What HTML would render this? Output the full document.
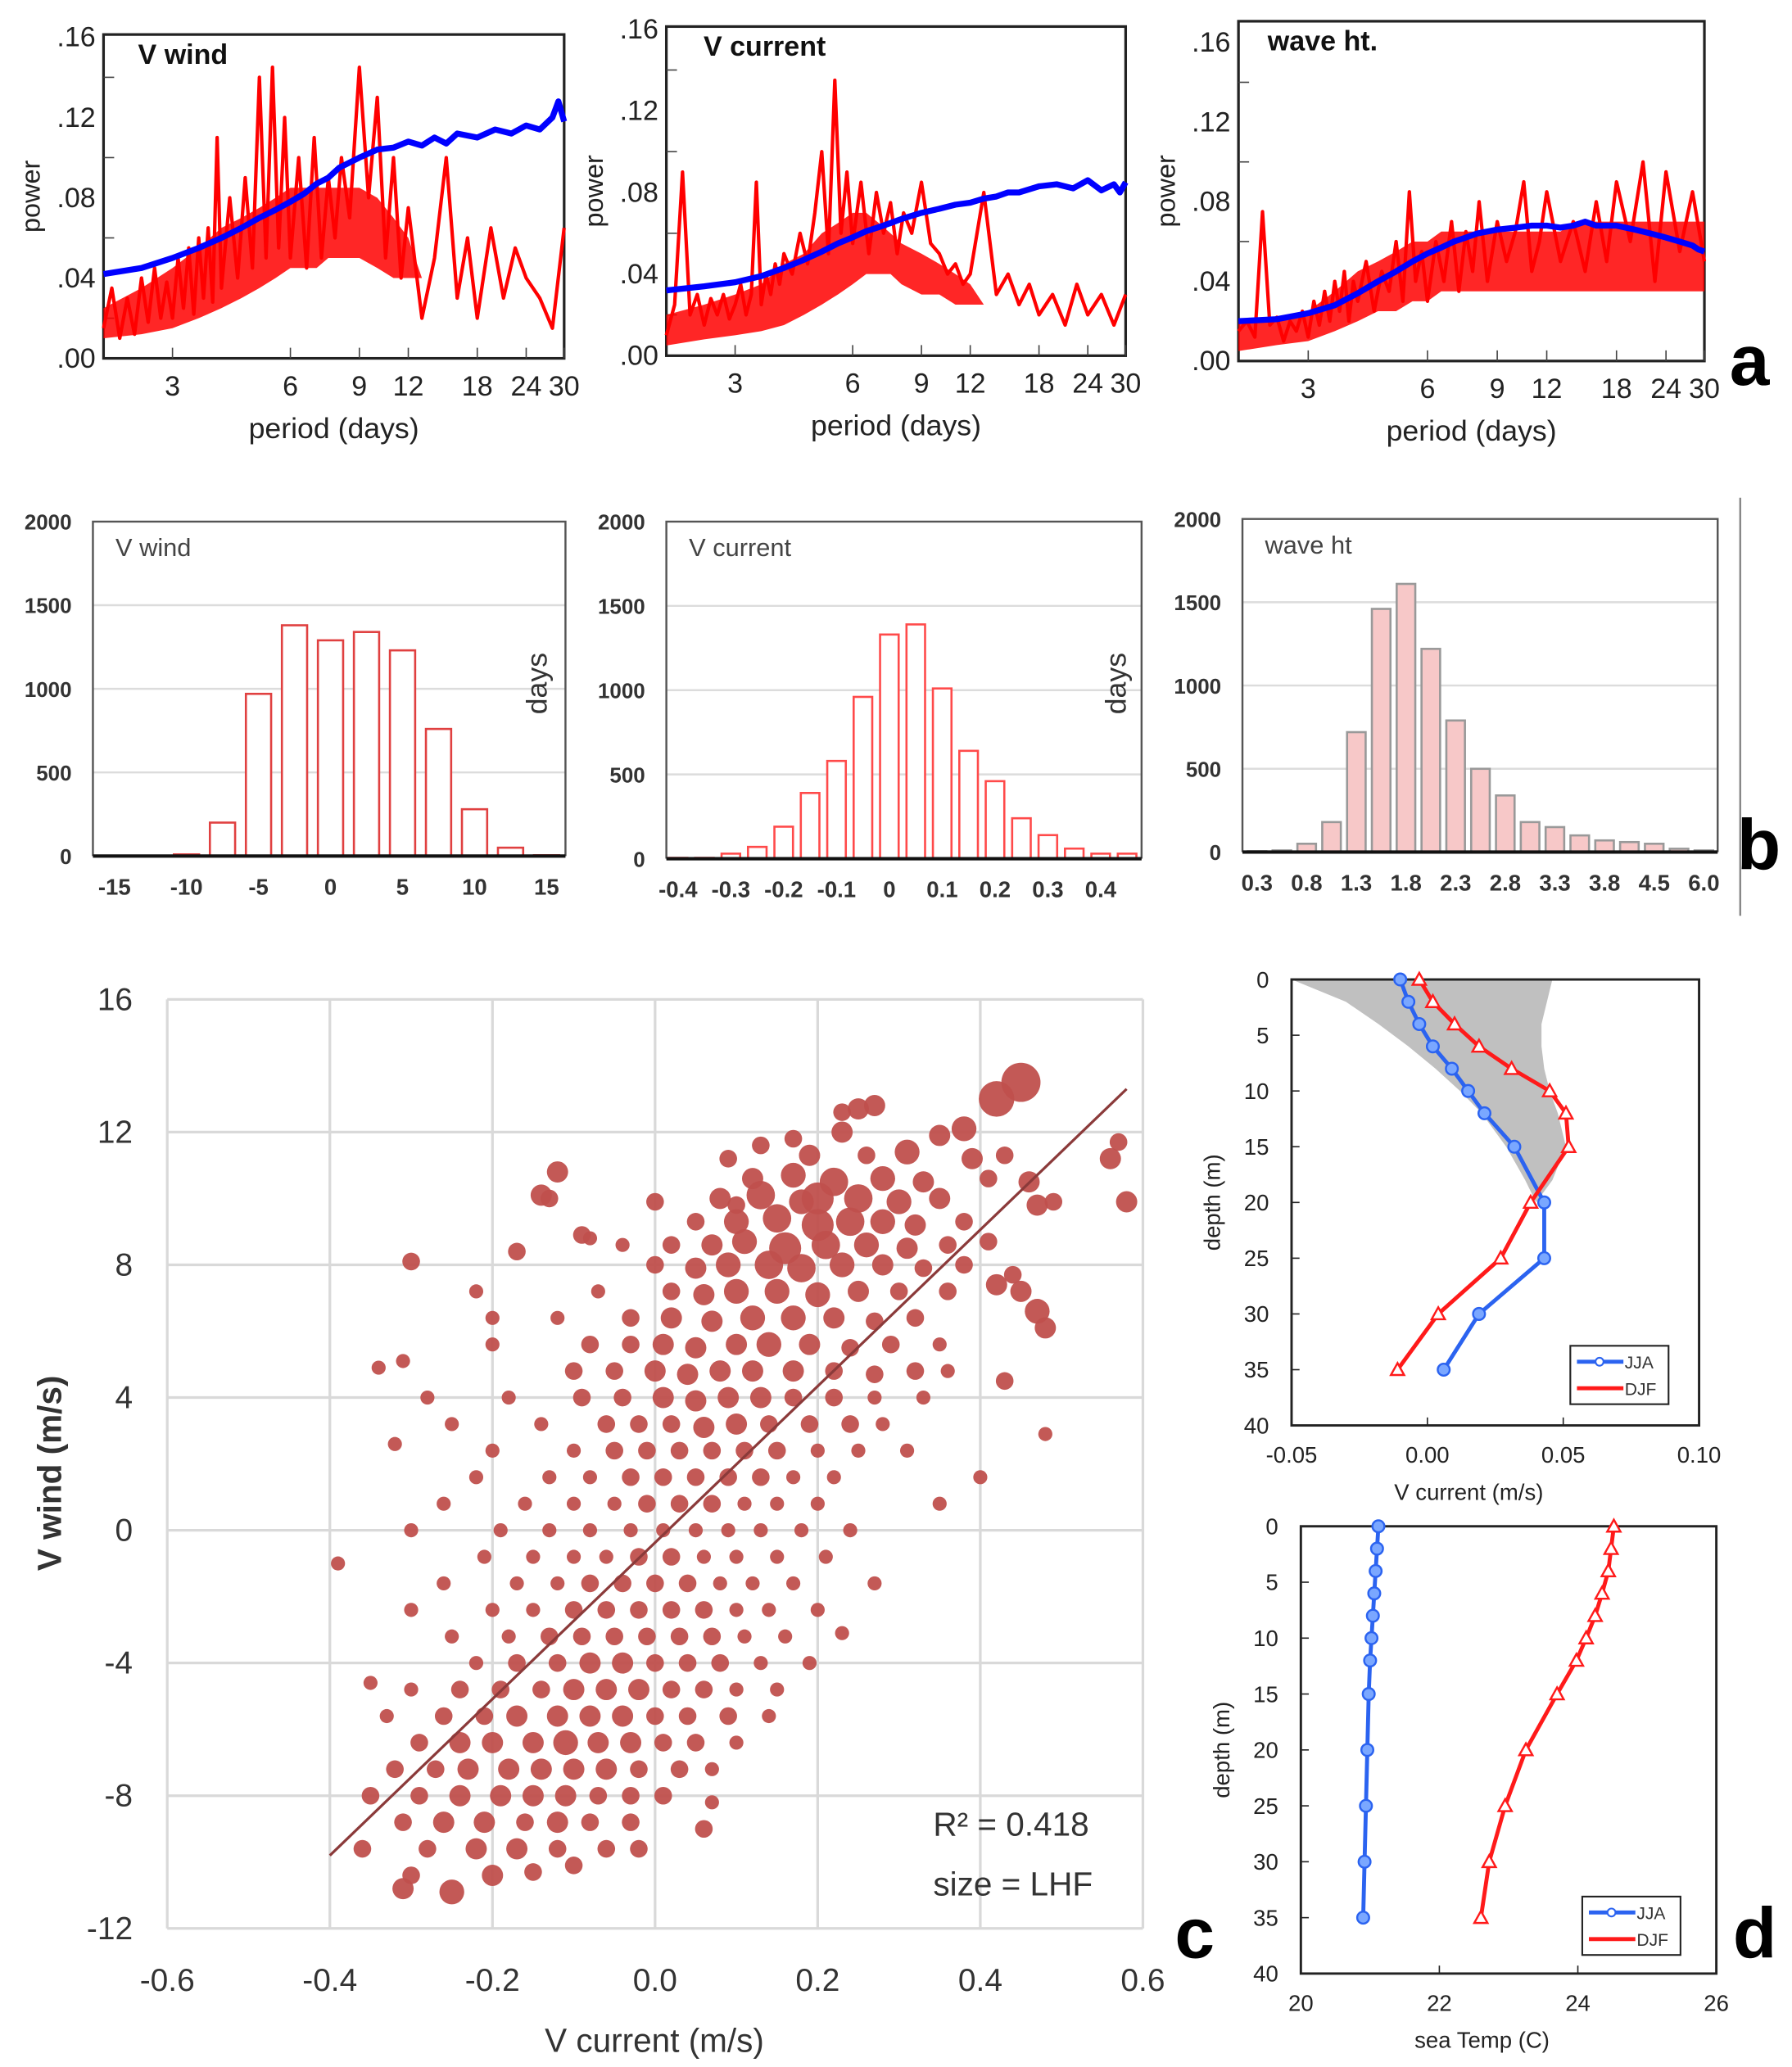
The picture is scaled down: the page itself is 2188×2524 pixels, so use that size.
<!DOCTYPE html>
<html><head><meta charset="utf-8"><style>
html,body{margin:0;padding:0;background:#fff;}
svg{display:block;}
text{font-family:"Liberation Sans Narrow","Liberation Sans",sans-serif;}
</style></head><body>
<svg id="fig" xmlns="http://www.w3.org/2000/svg" width="2188" height="2524" viewBox="0 0 1350 1557.4" preserveAspectRatio="none"></svg>
<script>
// ---------- DATA ----------
const specPeriods=[2,2.1,2.2,2.3,2.4,2.5,2.6,2.7,2.8,2.9,3,3.1,3.2,3.3,3.4,3.5,3.6,3.7,3.8,3.9,4,4.2,4.4,4.6,4.8,5,5.2,5.4,5.6,5.8,6,6.3,6.6,6.9,7.2,7.5,7.8,8.1,8.5,9,9.5,10,10.5,11,11.5,12,13,14,15,16,17,18,19.5,21,22.5,24,26,28,30];
const blueP=[2,2.5,3,3.5,4,4.5,5,5.5,6,6.5,7,7.5,8,9,10,11,12,13,14,15,16,18,20,22,24,26,28,29,30];
const windRed=[.015,.035,.01,.03,.012,.04,.018,.045,.02,.038,.02,.05,.025,.055,.022,.06,.03,.065,.028,.11,.035,.08,.04,.09,.045,.14,.05,.145,.055,.12,.05,.1,.045,.11,.05,.09,.06,.1,.07,.145,.08,.13,.05,.1,.04,.075,.02,.05,.1,.03,.06,.02,.065,.03,.055,.04,.03,.015,.065];
const windBlue=[.042,.045,.05,.055,.06,.065,.07,.074,.078,.082,.087,.09,.095,.1,.104,.105,.108,.106,.11,.107,.112,.11,.114,.112,.116,.114,.12,.128,.118];
const windLow=[.01,.012,.015,.02,.025,.03,.035,.04,.045,.045,.045,.05,.05,.05,.045,.04,.04,.04,.04,.04,.04,.04,.04,.04,.04,.04,.04,.04,.04];
const windHigh=[.025,.035,.045,.055,.065,.07,.075,.08,.085,.085,.085,.085,.085,.085,.08,.07,.06,.04,.04,.04,.04,.04,.04,.04,.04,.04,.04,.04,.04];
const curRed=[.01,.025,.09,.02,.03,.015,.028,.02,.03,.018,.025,.035,.02,.03,.085,.025,.04,.03,.045,.035,.05,.04,.06,.045,.07,.1,.05,.135,.06,.09,.055,.085,.05,.08,.06,.075,.05,.07,.06,.085,.055,.05,.04,.045,.035,.04,.08,.03,.04,.025,.035,.02,.03,.015,.035,.02,.03,.015,.03];
const curBlue=[.032,.034,.036,.039,.043,.047,.051,.055,.058,.061,.063,.065,.067,.07,.072,.074,.075,.077,.078,.08,.08,.083,.084,.082,.086,.081,.084,.08,.085];
const curLow=[.005,.008,.01,.012,.015,.02,.025,.03,.035,.04,.04,.04,.035,.03,.03,.025,.025,.025,.025,.025,.025,.025,.025,.025,.025,.025,.025,.025,.025];
const curHigh=[.02,.025,.03,.035,.045,.05,.06,.065,.07,.07,.065,.06,.055,.05,.045,.04,.035,.025,.025,.025,.025,.025,.025,.025,.025,.025,.025,.025,.025];
const waveRed=[.015,.02,.012,.075,.018,.022,.01,.02,.015,.025,.012,.03,.018,.035,.02,.04,.025,.045,.02,.04,.03,.05,.025,.045,.035,.06,.03,.085,.04,.055,.03,.06,.04,.07,.035,.065,.045,.08,.04,.07,.05,.065,.09,.045,.06,.085,.05,.07,.045,.08,.05,.09,.06,.1,.04,.095,.055,.085,.05];
const waveBlue=[.02,.021,.024,.028,.034,.04,.045,.05,.054,.057,.06,.062,.064,.066,.067,.068,.068,.067,.068,.07,.068,.068,.066,.064,.062,.06,.058,.056,.055];
const waveLow=[.005,.008,.01,.015,.02,.025,.025,.03,.03,.035,.035,.035,.035,.035,.035,.035,.035,.035,.035,.035,.035,.035,.035,.035,.035,.035,.035,.035,.035];
const waveHigh=[.02,.022,.025,.035,.045,.05,.055,.06,.06,.065,.065,.065,.065,.065,.065,.065,.065,.065,.07,.07,.07,.07,.07,.07,.07,.07,.07,.07,.07];
const powerTicks=[0,.04,.08,.12,.16];
const powerTickLabels=[".00",".04",".08",".12",".16"];
const periodTicks=[3,6,9,12,18,24,30];

const hWindBins=[-10,-7.5,-5,-2.5,0,2.5,5,7.5,10,12.5,15];
const hWindDays=[10,200,970,1380,1290,1340,1230,760,280,50,5];
const hWindTicks=[-15,-10,-5,0,5,10,15];
const hCurBins=[-0.4,-0.35,-0.3,-0.25,-0.2,-0.15,-0.1,-0.05,0,0.05,0.1,0.15,0.2,0.25,0.3,0.35,0.4,0.45];
const hCurDays=[5,5,30,70,190,390,580,960,1330,1390,1010,640,460,240,140,60,30,30];
const hCurTicks=[-0.4,-0.3,-0.2,-0.1,0,0.1,0.2,0.3,0.4];
const hWaveLabels=["0.3","","0.8","","1.3","","1.8","","2.3","","2.8","","3.3","","3.8","","4.5","","6.0"];
const hWaveDays=[5,10,50,180,720,1460,1610,1220,790,500,340,180,150,100,70,60,50,20,10];
const daysTicks=[0,500,1000,1500,2000];

const scatterPoints=[
[0.45,13.5,9],[0.42,13,8],
[0.27,12.8,4],[0.25,12.7,4],[0.23,12.6,3],
[0.23,12,4],[0.38,12.1,5],[0.35,11.9,4],[0.17,11.8,3],[0.13,11.6,3],
[0.19,11.3,4],[0.31,11.4,5],[0.39,11.2,4],[0.57,11.7,3],[0.56,11.2,4],[0.26,11.3,3],[0.09,11.2,3],[0.43,11.3,3],
[0.12,10.6,4],[0.17,10.7,5],[0.22,10.5,6],[0.28,10.6,5],[0.33,10.5,4],[0.41,10.6,3],[0.46,10.5,4],[-0.12,10.8,4],[0.58,9.9,4],
[-0.13,10,3],[-0.14,10.1,4],[0.08,10,4],[0.13,10.1,6],[0.18,9.9,5],[0.2,10,7],[0.25,10,6],[0.3,9.9,5],[0.35,10,4],[0.47,9.8,4],[0.49,9.9,3],[0.1,9.8,3],[0.0,9.9,3],
[0.05,9.3,3],[0.1,9.3,5],[0.15,9.4,6],[0.2,9.2,7],[0.24,9.3,6],[0.28,9.3,5],[0.32,9.2,4],[0.38,9.3,3],[-0.08,8.8,2],[-0.09,8.9,3],
[0.02,8.6,3],[0.07,8.6,4],[0.11,8.7,5],[0.16,8.5,7],[0.21,8.6,6],[0.26,8.6,5],[0.31,8.5,4],[0.36,8.6,3],[0.41,8.7,3],[-0.17,8.4,3],[-0.04,8.6,2],
[-0.3,8.1,3],[0.0,8,3],[0.05,7.9,4],[0.09,8,5],[0.14,8,6],[0.18,7.9,6],[0.23,8,5],[0.28,8,4],[0.33,7.9,3],[0.38,8,3],[0.44,7.7,3],
[-0.22,7.2,2],[-0.07,7.2,2],[0.02,7.2,3],[0.06,7.1,4],[0.1,7.2,5],[0.15,7.2,5],[0.2,7.1,5],[0.25,7.2,4],[0.3,7.2,3],[0.36,7.2,3],[0.42,7.4,4],[0.45,7.2,4],
[-0.2,6.4,2],[-0.12,6.4,2],[-0.03,6.4,3],[0.02,6.4,4],[0.07,6.3,4],[0.12,6.4,5],[0.17,6.4,5],[0.22,6.4,4],[0.27,6.3,3],[0.32,6.4,3],[0.47,6.6,5],[0.48,6.1,4],
[-0.2,5.6,2],[-0.08,5.6,3],[-0.03,5.6,3],[0.01,5.6,4],[0.05,5.5,4],[0.1,5.6,4],[0.14,5.6,5],[0.19,5.6,4],[0.24,5.5,3],[0.29,5.6,3],[0.35,5.6,2],
[-0.34,4.9,2],[-0.31,5.1,2],[-0.1,4.8,3],[-0.05,4.8,3],[0.0,4.8,4],[0.04,4.7,4],[0.08,4.8,4],[0.12,4.8,4],[0.17,4.8,4],[0.22,4.8,3],[0.27,4.7,3],[0.32,4.8,3],[0.36,4.8,2],[0.43,4.5,3],
[-0.28,4,2],[-0.18,4,2],[-0.09,4,3],[-0.04,4,3],[0.01,4,4],[0.05,3.9,4],[0.09,4,4],[0.13,4,4],[0.17,4,3],[0.22,4,3],[0.27,4,2],[0.33,4,2],
[-0.25,3.2,2],[-0.14,3.2,2],[-0.06,3.2,3],[-0.02,3.2,3],[0.02,3.2,3],[0.06,3.1,4],[0.1,3.2,4],[0.14,3.2,3],[0.19,3.2,3],[0.24,3.2,3],[0.28,3.2,2],[0.48,2.9,2],
[-0.32,2.6,2],[-0.2,2.4,2],[-0.1,2.4,2],[-0.05,2.4,3],[-0.01,2.4,3],[0.03,2.4,3],[0.07,2.4,3],[0.11,2.4,3],[0.15,2.4,3],[0.2,2.4,2],[0.25,2.4,2],[0.31,2.4,2],
[-0.22,1.6,2],[-0.13,1.6,2],[-0.08,1.6,2],[-0.03,1.6,3],[0.01,1.6,3],[0.05,1.6,3],[0.09,1.6,3],[0.13,1.6,3],[0.17,1.6,2],[0.22,1.6,2],[0.4,1.6,2],
[-0.26,0.8,2],[-0.16,0.8,2],[-0.1,0.8,2],[-0.05,0.8,2],[-0.01,0.8,3],[0.03,0.8,3],[0.07,0.8,3],[0.11,0.8,2],[0.15,0.8,2],[0.2,0.8,2],[0.35,0.8,2],
[-0.3,0,2],[-0.19,0,2],[-0.13,0,2],[-0.08,0,2],[-0.03,0,2],[0.01,0,2],[0.05,0,2],[0.09,0,2],[0.13,0,2],[0.18,0,2],[0.24,0,2],
[-0.39,-1,2],[-0.21,-0.8,2],[-0.15,-0.8,2],[-0.1,-0.8,2],[-0.06,-0.8,2],[-0.02,-0.8,3],[0.02,-0.8,3],[0.06,-0.8,2],[0.1,-0.8,2],[0.15,-0.8,2],[0.21,-0.8,2],
[-0.26,-1.6,2],[-0.17,-1.6,2],[-0.12,-1.6,2],[-0.08,-1.6,3],[-0.04,-1.6,3],[0.0,-1.6,3],[0.04,-1.6,3],[0.08,-1.6,2],[0.12,-1.6,2],[0.17,-1.6,2],[0.27,-1.6,2],
[-0.3,-2.4,2],[-0.2,-2.4,2],[-0.15,-2.4,2],[-0.1,-2.4,3],[-0.06,-2.4,3],[-0.02,-2.4,3],[0.02,-2.4,3],[0.06,-2.4,3],[0.1,-2.4,2],[0.14,-2.4,2],[0.2,-2.4,2],
[-0.25,-3.2,2],[-0.18,-3.2,2],[-0.13,-3.2,3],[-0.09,-3.2,3],[-0.05,-3.2,3],[-0.01,-3.2,3],[0.03,-3.2,3],[0.07,-3.2,3],[0.11,-3.2,2],[0.16,-3.2,2],[0.23,-3.1,2],
[-0.35,-4.6,2],[-0.22,-4,2],[-0.17,-4,3],[-0.12,-4,3],[-0.08,-4,4],[-0.04,-4,4],[0.0,-4,3],[0.04,-4,3],[0.08,-4,3],[0.13,-4,2],[0.19,-4,2],
[-0.3,-4.8,2],[-0.24,-4.8,3],[-0.19,-4.8,3],[-0.14,-4.8,3],[-0.1,-4.8,4],[-0.06,-4.8,4],[-0.02,-4.8,4],[0.02,-4.8,3],[0.06,-4.8,3],[0.1,-4.8,2],[0.15,-4.8,2],
[-0.33,-5.6,2],[-0.26,-5.6,3],[-0.21,-5.6,3],[-0.17,-5.6,4],[-0.12,-5.6,4],[-0.08,-5.6,4],[-0.04,-5.6,4],[0.0,-5.6,3],[0.04,-5.6,3],[0.09,-5.6,3],[0.14,-5.6,2],
[-0.29,-6.4,3],[-0.24,-6.4,4],[-0.2,-6.4,4],[-0.15,-6.4,4],[-0.11,-6.4,5],[-0.07,-6.4,4],[-0.03,-6.4,4],[0.01,-6.4,3],[0.05,-6.4,3],[0.1,-6.4,2],
[-0.32,-7.2,3],[-0.27,-7.2,3],[-0.23,-7.2,4],[-0.18,-7.2,4],[-0.14,-7.2,4],[-0.1,-7.2,4],[-0.06,-7.2,4],[-0.02,-7.2,3],[0.03,-7.2,3],[0.07,-7.2,2],
[-0.35,-8,3],[-0.29,-8,3],[-0.24,-8,4],[-0.19,-8,4],[-0.15,-8,4],[-0.11,-8,4],[-0.07,-8,3],[-0.03,-8,3],[0.01,-8,3],[0.07,-8.2,2],
[-0.31,-8.8,3],[-0.26,-8.8,4],[-0.21,-8.8,4],[-0.16,-8.8,3],[-0.12,-8.8,4],[-0.08,-8.8,3],[-0.03,-8.8,3],[0.06,-9,3],
[-0.36,-9.6,3],[-0.28,-9.6,3],[-0.22,-9.6,4],[-0.17,-9.6,4],[-0.12,-9.6,3],[-0.06,-9.6,3],[-0.02,-9.6,3],
[-0.31,-10.8,4],[-0.2,-10.4,4],[-0.15,-10.3,3],[-0.1,-10.1,3],[-0.25,-10.9,5],[-0.3,-10.4,3]
];
const fitX=[-0.4,0.58];
const fitY=[-9.8,13.3];
const cXTicks=[-0.6,-0.4,-0.2,0,0.2,0.4,0.6];
const cXLabels=["-0.6","-0.4","-0.2","0.0","0.2","0.4","0.6"];
const cYTicks=[-12,-8,-4,0,4,8,12,16];

const depths=[0,2,4,6,8,10,12,15,20,25,30,35];
const curJJA=[-0.01,-0.007,-0.003,0.002,0.009,0.015,0.021,0.032,0.043,0.043,0.019,0.006];
const curDJF=[-0.003,0.002,0.01,0.019,0.031,0.045,0.051,0.052,0.038,0.027,0.004,-0.011];
const shadeDepth=[0,2,4,6,8,10,12,15,18,20];
const shadeLeft=[-0.05,-0.03,-0.018,-0.007,0.003,0.012,0.02,0.029,0.036,0.04];
const shadeRight=[0.046,0.044,0.042,0.042,0.043,0.045,0.048,0.051,0.046,0.04];
const tempJJA=[21.12,21.1,21.08,21.06,21.04,21.02,21.0,20.98,20.96,20.94,20.92,20.9];
const tempDJF=[24.52,24.48,24.44,24.35,24.25,24.12,23.98,23.7,23.25,22.95,22.72,22.6];
const depthTicks=[0,5,10,15,20,25,30,35,40];
const dCurTicks=[-0.05,0,0.05,0.1];
const dCurLabels=["-0.05","0.00","0.05","0.10"];
const dTempTicks=[20,22,24,26];

// ---------- HELPERS ----------
const NS="http://www.w3.org/2000/svg";
const svg=document.getElementById('fig');
function mk(tag,attrs,parent){const e=document.createElementNS(NS,tag);for(const k in attrs)e.setAttribute(k,attrs[k]);(parent||svg).appendChild(e);return e;}
function txt(s,x,y,size,opts,parent){const o=Object.assign({x:x,y:y,'font-size':size,fill:'#222'},opts||{});const t=mk('text',o,parent);t.textContent=s;return t;}
function grp(){return mk('g',{});}

// ---------- PANEL A ----------
function spectrum(cfg){
  const g=grp();
  
  
  const L=Math.log(2),R=Math.log(30);
  const xa=p=>cfg.x0+(Math.log(p)-L)/(R-L)*(cfg.x1-cfg.x0);
  const ya=v=>cfg.yb-v/0.16*(cfg.yb-cfg.yt);
  const box=mk('rect',{x:cfg.x0,y:cfg.top,width:cfg.x1-cfg.x0,height:cfg.yb-cfg.top,fill:'none',stroke:'#222','stroke-width':2},g);
  
  
  for(let i=0;i<powerTicks.length;i++){
    const y=ya(powerTicks[i]);
    const t=txt(powerTickLabels[i],cfg.x0-6,y+7,21,{'text-anchor':'end'},g);
    
    
    if(i>0){const m=mk('line',{x1:cfg.x0,x2:cfg.x0+8,y1:ya(powerTicks[i]-0.02),y2:ya(powerTicks[i]-0.02),stroke:'#444','stroke-width':1},g);
    
    }
  }
  for(const p of periodTicks){
    const x=xa(p);
    const tk=mk('line',{x1:x,x2:x,y1:cfg.yb,y2:cfg.yb-8,stroke:'#444','stroke-width':1},g);
    
    
    const t=txt(String(p),x,cfg.yb+28,21,{'text-anchor':'middle'},g);
    
    
  }
  const envPts=blueP.map((p,i)=>xa(p)+','+ya(cfg.high[i])).concat(blueP.slice().reverse().map((p,j)=>xa(p)+','+ya(cfg.low[blueP.length-1-j])));
  const env=mk('polygon',{points:envPts.join(' '),fill:'#ff0000','fill-opacity':0.85},g);
  
  
  const red=mk('polyline',{points:specPeriods.map((p,i)=>xa(p)+','+ya(cfg.red[i])).join(' '),fill:'none',stroke:'#ff0000','stroke-width':2.6,'stroke-linejoin':'round'},g);
  
  
  const blue=mk('polyline',{points:blueP.map((p,i)=>xa(p)+','+ya(cfg.blue[i])).join(' '),fill:'none',stroke:'#0000ff','stroke-width':4.5,'stroke-linejoin':'round'},g);
  
  
  const ti=txt(cfg.title,cfg.x0+cfg.tdx,cfg.top+22,21,{'font-weight':'bold',fill:'#111'},g);
  
  
  const yl=txt('power',0,0,21,{transform:`translate(${cfg.x0-48},${(cfg.top+cfg.yb)/2}) rotate(-90)`,'text-anchor':'middle','font-family':'Liberation Sans, sans-serif','font-size':20},g);
  
  
  const xl=txt('period (days)',(cfg.x0+cfg.x1)/2,cfg.yb+60,22,{'text-anchor':'middle'},g);
  
  
}
spectrum({name:'spectrum-v-wind',x0:78,x1:425,top:26,yt:28,yb:270,red:windRed,blue:windBlue,low:windLow,high:windHigh,title:'V wind',tdx:26});
spectrum({name:'spectrum-v-current',x0:502,x1:848,top:20,yt:22,yb:268,red:curRed,blue:curBlue,low:curLow,high:curHigh,title:'V current',tdx:28});
spectrum({name:'spectrum-wave-ht',x0:933,x1:1284,top:16,yt:32,yb:272,red:waveRed,blue:waveBlue,low:waveLow,high:waveHigh,title:'wave ht.',tdx:22});

// ---------- PANEL B ----------
function hist(cfg){
  const g=grp();
  
  
  const yh=v=>cfg.yb-v/2000*(cfg.yb-cfg.yt);
  for(const d of daysTicks){
    if(d>0&&d<2000){const gl=mk('line',{x1:cfg.x0,x2:cfg.x1,y1:yh(d),y2:yh(d),stroke:'#dcdcdc','stroke-width':1.5},g);
    
    }
    const t=txt(String(d),cfg.x0-16,yh(d)+6,16,{'text-anchor':'end','font-weight':'bold',fill:'#333'},g);
    
    
  }
  const fr=mk('path',{d:`M${cfg.x0},${cfg.yb}V${cfg.yt}H${cfg.x1}V${cfg.yb}`,fill:'none',stroke:'#555','stroke-width':1.5},g);
  
  
  const n=cfg.days.length;
  for(let i=0;i<n;i++){
    const cx=cfg.xf(i);
    const y=yh(cfg.days[i]);
    const b=mk('rect',{x:cx-cfg.bw/2,y:y,width:cfg.bw,height:cfg.yb-y,fill:cfg.fill,stroke:cfg.stroke,'stroke-width':1.6},g);
    
    
  }
  const base=mk('line',{x1:cfg.x0,x2:cfg.x1,y1:cfg.yb,y2:cfg.yb,stroke:'#111','stroke-width':2.5},g);
  
  
  for(let i=0;i<cfg.ticks.length;i++){
    if(cfg.labels[i]==='')continue;
    const t=txt(cfg.labels[i],cfg.tx(i),cfg.yb+29,17,{'text-anchor':'middle','font-weight':'bold',fill:'#333'},g);
    
    
  }
  const ti=txt(cfg.title,cfg.x0+17,cfg.yt+26,19,{fill:'#444','font-family':'Liberation Sans, sans-serif'},g);
  
  
  if(cfg.daysX){const dl=txt('days',0,0,22,{transform:`translate(${cfg.daysX},515) rotate(-90)`,'text-anchor':'middle','font-family':'Liberation Sans, sans-serif',fill:'#333'},g);
  
  }
}
{
  const xw=v=>249+v*10.85;
  hist({name:'histogram-v-wind',x0:70,x1:426,yt:393,yb:645,days:hWindDays,xf:i=>xw(hWindBins[i]),bw:19,fill:'#fff',stroke:'#e04040',
    ticks:hWindTicks,labels:hWindTicks.map(String),tx:i=>xw(hWindTicks[i]),title:'V wind',daysX:412});
  const xc=v=>670+v*398;
  hist({name:'histogram-v-current',x0:502,x1:860,yt:393,yb:647,days:hCurDays,xf:i=>xc(hCurBins[i]),bw:14,fill:'#fff',stroke:'#ff4a4a',
    ticks:hCurTicks,labels:hCurTicks.map(v=>v===0?'0':String(v)),tx:i=>xc(hCurTicks[i]),title:'V current',daysX:848});
  const xv=i=>947+i*18.7;
  hist({name:'histogram-wave-ht',x0:936,x1:1294,yt:391,yb:642,days:hWaveDays,xf:xv,bw:14,fill:'#f7c8c8',stroke:'#999',
    ticks:hWaveLabels,labels:hWaveLabels,tx:xv,title:'wave ht'});
}
const sep=mk('line',{x1:1311,x2:1311,y1:375,y2:690,stroke:'#888','stroke-width':1.5});



// ---------- PANEL C ----------
{
  const g=grp();
  
  
  const X0=126,X1=861,Y0=1453,Y1=753;
  const xs=v=>X0+(v+0.6)/1.2*(X1-X0);
  const ys=v=>Y0-(v+12)/28*(Y0-Y1);
  for(const v of cXTicks){const l=mk('line',{x1:xs(v),x2:xs(v),y1:Y1,y2:Y0,stroke:'#d9d9d9','stroke-width':2},g);
    
    }
  for(const v of cYTicks){const l=mk('line',{x1:X0,x2:X1,y1:ys(v),y2:ys(v),stroke:'#d9d9d9','stroke-width':2},g);
    
    
    const t=txt(String(v),100,ys(v)+8,24,{'text-anchor':'end',fill:'#333','font-family':'Liberation Sans, sans-serif'},g);
    
    }
  cXTicks.forEach((v,i)=>{const t=txt(cXLabels[i],xs(v),1500,24,{'text-anchor':'middle',fill:'#333','font-family':'Liberation Sans, sans-serif'},g);
    
    });
  for(const p of scatterPoints){
    const c=mk('circle',{cx:xs(p[0]),cy:ys(p[1]),r:2.6+p[2]*1.35,fill:'#c0504d','fill-opacity':0.95},g);
    
    
  }
  const fit=mk('line',{x1:xs(fitX[0]),y1:ys(fitY[0]),x2:xs(fitX[1]),y2:ys(fitY[1]),stroke:'#8b3a3a','stroke-width':2},g);
  
  
  const r2=txt('R² = 0.418',703,1383,25,{fill:'#333'},g);
  
  
  const sz=txt('size = LHF',703,1428,25,{fill:'#333'},g);
  
  
  const yt=txt('V wind (m/s)',0,0,25,{transform:'translate(46,1110) rotate(-90)','text-anchor':'middle','font-weight':'bold',fill:'#333','font-family':'Liberation Sans, sans-serif'},g);
  
  
  const xt=txt('V current (m/s)',493,1546,25,{'text-anchor':'middle',fill:'#333','font-family':'Liberation Sans, sans-serif'},g);
  
  
}

// ---------- PANEL D ----------
function profile(cfg){
  const g=grp();
  
  
  const xp=v=>cfg.x0+(v-cfg.xmin)/(cfg.xmax-cfg.xmin)*(cfg.x1-cfg.x0);
  const yp=d=>cfg.yt+d/40*(cfg.yb-cfg.yt);
  if(cfg.shade){
    const pts=shadeDepth.map((d,i)=>xp(shadeLeft[i])+','+yp(d)).concat(shadeDepth.slice().reverse().map((d,j)=>xp(shadeRight[shadeDepth.length-1-j])+','+yp(d)));
    const s=mk('polygon',{points:pts.join(' '),fill:'#c0c0c0'},g);
    
    
  }
  const box=mk('rect',{x:cfg.x0,y:cfg.yt,width:cfg.x1-cfg.x0,height:cfg.yb-cfg.yt,fill:'none',stroke:'#222','stroke-width':1.8},g);
  
  
  for(const d of depthTicks){
    const tk=mk('line',{x1:cfg.x0,x2:cfg.x0+6,y1:yp(d),y2:yp(d),stroke:'#222'},g);
    
    
    const t=txt(String(d),cfg.x0-17,yp(d)+6,17,{'text-anchor':'end',fill:'#222','font-family':'Liberation Sans, sans-serif'},g);
    
    
  }
  cfg.xticks.forEach((v,i)=>{
    const tk=mk('line',{x1:xp(v),x2:xp(v),y1:cfg.yb,y2:cfg.yb-6,stroke:'#222'},g);
    
    
    const t=txt(cfg.xlabels[i],xp(v),cfg.yb+28,17,{'text-anchor':'middle',fill:'#222','font-family':'Liberation Sans, sans-serif'},g);
    
    
  });
  const series=[[cfg.jja,'#2b63f0','circle','jja-line'],[cfg.djf,'#ff1a1a','tri','djf-line']];
  for(const [vals,col,mkr,nm] of series){
    const l=mk('polyline',{points:depths.map((d,i)=>xp(vals[i])+','+yp(d)).join(' '),fill:'none',stroke:col,'stroke-width':3,'stroke-linejoin':'round'},g);
    
    
    depths.forEach((d,i)=>{
      const x=xp(vals[i]),y=yp(d);
      let m;
      if(mkr==='circle')m=mk('circle',{cx:x,cy:y,r:4.5,fill:'#7aa7ff',stroke:col,'stroke-width':1.5},g);
      else m=mk('polygon',{points:`${x},${y-5} ${x-5},${y+4} ${x+5},${y+4}`,fill:'#fff',stroke:col,'stroke-width':1.5},g);
      
      
    });
  }
  const lg=mk('rect',{x:cfg.lx,y:cfg.ly,width:74,height:44,fill:'#fff',stroke:'#222','stroke-width':1.3},g);
  
  
  const l1=mk('line',{x1:cfg.lx+5,x2:cfg.lx+40,y1:cfg.ly+12,y2:cfg.ly+12,stroke:'#2b63f0','stroke-width':3},g);
  
  
  const c1=mk('circle',{cx:cfg.lx+22,cy:cfg.ly+12,r:3,fill:'#fff',stroke:'#2b63f0','stroke-width':1.3},g);
  
  
  const t1=txt('JJA',cfg.lx+41,cfg.ly+17,13,{fill:'#333','font-family':'Liberation Sans, sans-serif'},g);
  
  
  const l2=mk('line',{x1:cfg.lx+5,x2:cfg.lx+40,y1:cfg.ly+32,y2:cfg.ly+32,stroke:'#ff1a1a','stroke-width':3},g);
  
  
  const t2=txt('DJF',cfg.lx+41,cfg.ly+37,13,{fill:'#333','font-family':'Liberation Sans, sans-serif'},g);
  
  
  const yl=txt('depth (m)',0,0,17,{transform:`translate(${cfg.x0-54},${(cfg.yt+cfg.yb)/2}) rotate(-90)`,'text-anchor':'middle',fill:'#222','font-family':'Liberation Sans, sans-serif'},g);
  
  
  const xl=txt(cfg.xtitle,(cfg.x0+cfg.x1)/2-20,cfg.yb+56,17,{'text-anchor':'middle',fill:'#222','font-family':'Liberation Sans, sans-serif'},g);
  
  
}
profile({name:'current-profile',x0:973,x1:1280,yt:738,yb:1074,xmin:-0.05,xmax:0.10,xticks:dCurTicks,xlabels:dCurLabels,jja:curJJA,djf:curDJF,shade:true,lx:1183,ly:1014,xtitle:'V current (m/s)'});
profile({name:'temperature-profile',x0:980,x1:1293,yt:1150,yb:1487,xmin:20,xmax:26,xticks:dTempTicks,xlabels:dTempTicks.map(String),jja:tempJJA,djf:tempDJF,shade:false,lx:1192,ly:1429,xtitle:'sea Temp (C)'});

// ---------- PANEL LETTERS ----------
[['a',1318,290],['b',1325,655],['c',900,1475],['d',1322,1475]].forEach(([s,x,y])=>{
  const t=txt(s,x,y,54,{'font-family':'Liberation Serif, serif','font-weight':'bold',fill:'#000','text-anchor':'middle'});
  
  
});
</script>
</body></html>
